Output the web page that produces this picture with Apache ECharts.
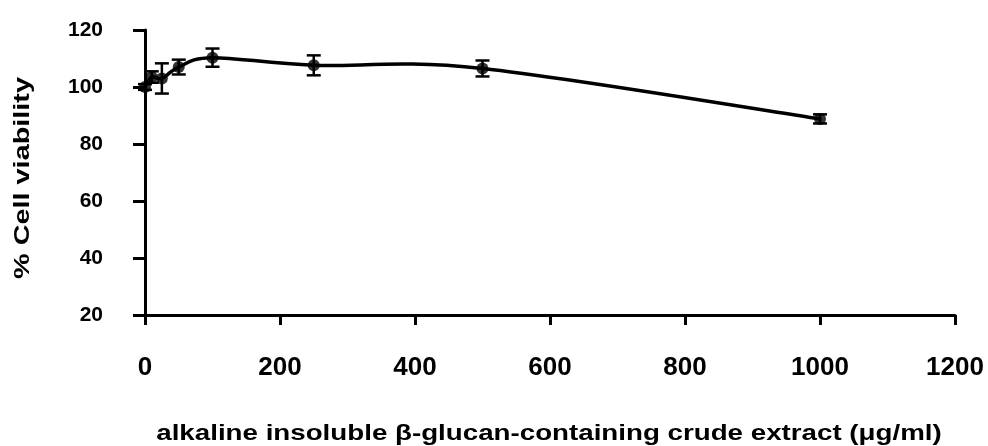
<!DOCTYPE html>
<html>
<head>
<meta charset="utf-8">
<script src="https://cdn.jsdelivr.net/npm/echarts@6/dist/echarts.min.js"></script>
<style>
  html, body { margin: 0; padding: 0; background: #fff; }
  #chart { width: 988px; height: 446px; }
</style>
</head>
<body>
<div id="chart"></div>
<script>
// Concentration of extract (µg/ml)
const concentrations = [0, 10, 25, 50, 100, 250, 500, 1000];
// Mean cell viability (%)
const viability = [100, 103.5, 103, 107, 110.3, 107.6, 106.5, 88.8];
// Standard deviation (%)
const viabilityErr = [1, 2, 5.3, 2.6, 3.2, 3.5, 2.8, 1.6];

const xTicks = [0, 1200, 200];   // min, max, interval
const yTicks = [20, 120, 20];

const xTitle = 'alkaline insoluble β-glucan-containing crude extract (μg/ml)';
const yTitle = '% Cell viability';

const FONT = 'Liberation Sans, Arial, sans-serif';

const points = concentrations.map((c, i) => [c, viability[i]]);
const errPoints = concentrations.map((c, i) => [c, viability[i] - viabilityErr[i], viability[i] + viabilityErr[i]]);

// Smoothed connector: cardinal spline through the data points, in pixel space
function segmentPath(api, i) {
  const P = (k) => api.coord(points[Math.max(0, Math.min(points.length - 1, k))]);
  const p0 = P(i - 2), p1 = P(i - 1), p2 = P(i), p3 = P(i + 1);
  const t = 1 / 6;
  const c1 = [p1[0] + (p2[0] - p0[0]) * t, p1[1] + (p2[1] - p0[1]) * t];
  const c2 = [p2[0] - (p3[0] - p1[0]) * t, p2[1] - (p3[1] - p1[1]) * t];
  return 'M' + p1[0] + ' ' + p1[1] + ' C' + c1[0] + ' ' + c1[1] + ' ' + c2[0] + ' ' + c2[1] + ' ' + p2[0] + ' ' + p2[1];
}

const chart = echarts.init(document.getElementById('chart'));
chart.setOption({
  animation: false,
  backgroundColor: '#ffffff',
  grid: { left: 145, right: 33, top: 30, bottom: 131 },
  xAxis: {
    type: 'value',
    min: xTicks[0], max: xTicks[1], interval: xTicks[2],
    splitLine: { show: false },
    axisLine: { show: true, onZero: false, lineStyle: { color: '#000', width: 3 } },
    axisTick: { show: true, length: 10, lineStyle: { color: '#000', width: 3 } },
    axisLabel: {
      margin: 40, color: '#000', fontFamily: FONT, fontWeight: 'bold', fontSize: 26,
      formatter: (v) => String(v)
    }
  },
  yAxis: {
    type: 'value',
    min: yTicks[0], max: yTicks[1], interval: yTicks[2],
    splitLine: { show: false },
    axisLine: { show: true, onZero: false, lineStyle: { color: '#000', width: 3 } },
    axisTick: { show: true, length: 12, lineStyle: { color: '#000', width: 3 } },
    axisLabel: { margin: 42, color: '#000', fontFamily: FONT, fontWeight: 'bold', fontSize: 21 }
  },
  graphic: [
    {
      type: 'text',
      x: 549, y: 434,
      scaleX: 1.26,
      style: {
        text: xTitle, fill: '#000',
        font: 'bold 22px ' + FONT,
        textAlign: 'center', textVerticalAlign: 'middle'
      }
    },
    {
      type: 'text',
      x: 23, y: 178,
      rotation: Math.PI / 2,
      scaleX: 1.31,
      style: {
        text: yTitle, fill: '#000',
        font: 'bold 22px ' + FONT,
        textAlign: 'center', textVerticalAlign: 'middle'
      }
    }
  ],
  series: [
    {
      type: 'custom',
      data: points,
      z: 2,
      renderItem: function (params, api) {
        const i = params.dataIndex;
        if (i === 0) return null;
        return {
          type: 'path',
          shape: { pathData: segmentPath(api, i) },
          style: { fill: null, stroke: '#000', lineWidth: 3.5, lineCap: 'round' }
        };
      }
    },
    {
      type: 'custom',
      data: errPoints,
      z: 3,
      renderItem: function (params, api) {
        const x = api.value(0);
        const lo = api.coord([x, api.value(1)]);
        const hi = api.coord([x, api.value(2)]);
        const half = 7;
        const style = { stroke: '#000', lineWidth: 2.5 };
        return {
          type: 'group',
          children: [
            { type: 'line', shape: { x1: lo[0], y1: lo[1], x2: hi[0], y2: hi[1] }, style: style },
            { type: 'line', shape: { x1: lo[0] - half, y1: lo[1], x2: lo[0] + half, y2: lo[1] }, style: style },
            { type: 'line', shape: { x1: hi[0] - half, y1: hi[1], x2: hi[0] + half, y2: hi[1] }, style: style }
          ]
        };
      }
    },
    {
      type: 'scatter',
      data: points,
      symbol: 'circle',
      symbolSize: 12,
      itemStyle: { color: '#000' },
      z: 4
    }
  ]
});
</script>
</body>
</html>
